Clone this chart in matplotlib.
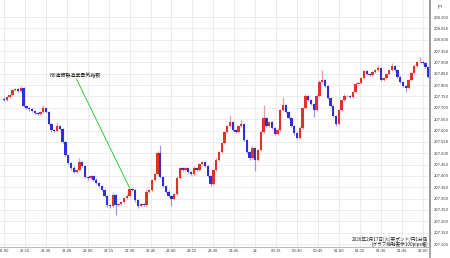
import numpy as np
import matplotlib
matplotlib.use("Agg")
import matplotlib.pyplot as plt
from matplotlib.transforms import Bbox

# ---- data (2-minute candles, minutes from 21:00) ----
closes = [
    207.734, 207.748, 207.756, 207.778, 207.783, 207.774, 207.787, 207.708, 207.699, 207.695,
    207.686, 207.677, 207.673, 207.682, 207.699, 207.682, 207.629, 207.602, 207.598, 207.620,
    207.607, 207.549, 207.492, 207.457, 207.435, 207.417, 207.426, 207.461, 207.444, 207.395,
    207.391, 207.400, 207.382, 207.369, 207.356, 207.338, 207.312, 207.272, 207.268, 207.316,
    207.272, 207.276, 207.285, 207.303, 207.312, 207.342, 207.338, 207.294, 207.268, 207.276,
    207.272, 207.329, 207.338, 207.382, 207.408, 207.500, 207.395, 207.356, 207.330, 207.312,
    207.298, 207.320, 207.391, 207.435, 207.426, 207.435, 207.417, 207.408, 207.435, 207.426,
    207.453, 207.461, 207.444, 207.400, 207.364, 207.426, 207.470, 207.505, 207.545, 207.593,
    207.620, 207.638, 207.602, 207.593, 207.620, 207.629, 207.558, 207.505, 207.479, 207.523,
    207.470, 207.514, 207.593, 207.655, 207.620, 207.638, 207.611, 207.585, 207.602, 207.690,
    207.712, 207.682, 207.655, 207.620, 207.589, 207.567, 207.611, 207.699, 207.752, 207.734,
    207.717, 207.690, 207.752, 207.814, 207.823, 207.796, 207.743, 207.708, 207.664, 207.629,
    207.690, 207.734, 207.752, 207.752, 207.748, 207.770, 207.805, 207.809, 207.831, 207.862,
    207.849, 207.845, 207.858, 207.867, 207.875, 207.823, 207.831, 207.849, 207.867, 207.884,
    207.867, 207.836, 207.814, 207.796, 207.787, 207.823, 207.853, 207.884, 207.902, 207.902,
    207.897, 207.880, 207.836,
]
first_open = 207.740
# wick lengths beyond the body, in 0.001 JPY
wick_up = [
    6, 5, 7, 4, 6, 5, 8, 4, 5, 6, 4, 5, 6, 5, 13, 4, 6, 5, 4, 18,
    5, 4, 6, 5, 4, 7, 5, 18, 4, 5, 6, 4, 5, 7, 4, 5, 6, 4, 5, 9,
    4, 6, 5, 4, 7, 5, 6, 4, 5, 6, 4, 7, 5, 6, 4, 8, 36, 5, 4, 6,
    5, 4, 7, 6, 5, 4, 6, 5, 7, 4, 6, 5, 4, 6, 5, 4, 7, 5, 6, 4,
    5, 30, 6, 4, 5, 17, 4, 6, 5, 7, 4, 6, 8, 57, 5, 6, 4, 5, 7, 6,
    36, 4, 5, 6, 4, 5, 7, 6, 8, 4, 5, 4, 7, 9, 44, 5, 4, 6, 5, 4,
    6, 5, 7, 4, 6, 5, 7, 4, 6, 5, 4, 6, 5, 4, 14, 5, 6, 4, 5, 13,
    4, 5, 6, 4, 5, 6, 5, 7, 6, 22, 5, 4, 6,
]
wick_dn = [
    5, 6, 4, 5, 6, 4, 5, 6, 4, 7, 5, 4, 6, 5, 4, 6, 5, 7, 4, 5,
    6, 4, 5, 6, 7, 4, 5, 6, 4, 5, 7, 4, 6, 5, 4, 6, 5, 8, 9, 4,
    44, 6, 5, 4, 6, 5, 4, 7, 8, 5, 6, 4, 5, 6, 4, 5, 6, 5, 7, 6,
    30, 5, 4, 6, 5, 4, 6, 5, 4, 6, 5, 4, 6, 5, 8, 4, 5, 6, 4, 5,
    6, 4, 5, 6, 4, 5, 6, 4, 7, 5, 48, 4, 5, 6, 4, 5, 6, 4, 5, 6,
    4, 5, 6, 4, 7, 6, 5, 4, 6, 5, 4, 31, 5, 4, 6, 5, 4, 6, 5, 7,
    4, 5, 6, 4, 5, 6, 4, 5, 6, 4, 5, 6, 4, 5, 6, 4, 5, 6, 4, 5,
    6, 4, 5, 6, 17, 4, 5, 6, 4, 5, 6, 5, 6,
]
candle_minutes_step = 2

tick_minutes = [0, 15, 30, 45, 60, 75, 90, 105, 120, 135, 150, 165, 180,
                195, 210, 225, 240, 255, 270, 285, 300]
tick_labels = ["21:00", "21:15", "21:30", "21:45", "22:00", "22:15", "22:30",
               "22:45", "23:00", "23:15", "23:30", "23:45", "18", "00:15",
               "00:30", "00:45", "01:00", "01:15", "01:30", "01:45", "02:00"]
y_ticks = [round(207.100 + 0.05 * k, 3) for k in range(21)]

event_label = "NY連銀製造業景気指数"
event_minute = 90
event_price = 207.347
label_minute = 51
label_price = 207.832
caption1 = "2026年2月17日(火)英ポンド/円1分足"
caption2 = "(グラフ縦軸表示100pips幅)"
currency = "JPY"

# ---- figure ----
W, H, DPI = 450, 258, 100
fig = plt.figure(figsize=(W / DPI, H / DPI), dpi=DPI)
fig.patch.set_facecolor("white")
ax = fig.add_axes([0, 1 - 247 / H, 430 / W, 247 / H])

closes_a = np.array(closes)
opens_a = np.concatenate([[first_open], closes_a[:-1]])
t = np.arange(len(closes_a)) * candle_minutes_step
hi_body = np.maximum(opens_a, closes_a)
lo_body = np.minimum(opens_a, closes_a)
highs = hi_body + np.array(wick_up) / 1000.0
lows = lo_body - np.array(wick_dn) / 1000.0
up = closes_a >= opens_a

red, blue = "#e3302b", "#2f2fd8"
red_w, blue_w = "#f09aa4", "#a394e6"

ax.vlines(t[up], lows[up], highs[up], colors=red_w, linewidth=0.9, zorder=2)
ax.vlines(t[~up], lows[~up], highs[~up], colors=blue_w, linewidth=0.9, zorder=2)
body_h = np.maximum(hi_body - lo_body, 0.002)
ax.bar(t[up], body_h[up], bottom=lo_body[up], width=1.7, color=red, linewidth=0, zorder=3)
ax.bar(t[~up], body_h[~up], bottom=lo_body[~up], width=1.7, color=blue, linewidth=0, zorder=3)

# event annotation
ax.plot([label_minute + 1, event_minute], [label_price - 0.006, event_price],
        color="#33cc33", linewidth=0.7, zorder=4)
ax.text(label_minute, label_price, event_label, fontsize=3.6, ha="center", va="bottom",
        color="#222222", family=["Noto Sans CJK JP", "DejaVu Sans"], zorder=5)

x0 = -2.9
x1 = 305.3
ax.set_xlim(x0, x1)
ax.set_ylim(207.087, 208.175)

ax.set_xticks(tick_minutes)
ax.set_xticklabels(tick_labels)
ax.set_yticks(y_ticks)
ax.set_yticklabels([f"{v:.3f}" for v in y_ticks])
ax.yaxis.tick_right()
ax.tick_params(axis="both", length=0, labelsize=2.6, labelcolor="#333333")
ax.tick_params(axis="x", pad=1.5)
ax.tick_params(axis="y", pad=2.5)
ax.grid(True, color="#e8e8ee", linewidth=0.6)
ax.set_axisbelow(True)
for s in ["top", "left"]:
    ax.spines[s].set_visible(False)
ax.spines["right"].set_color("#999999")
ax.spines["right"].set_linewidth(1.2)
ax.spines["bottom"].set_color("#bbbbbb")
ax.spines["bottom"].set_linewidth(0.8)

clip = Bbox.from_extents(0, 0, 428, H)
for lbl in ax.get_xticklabels():
    lbl.set_clip_on(True)
    lbl.set_clip_box(clip)

fig.text(440 / W, 1 - 7 / H, currency, fontsize=2.6, ha="center", va="center", color="#333333")

ax.text(0.995, 0.033, caption1, transform=ax.transAxes, fontsize=3.3, ha="right", va="center",
        color="#222222", family=["Noto Sans CJK JP", "DejaVu Sans"])
ax.text(0.995, 0.013, caption2, transform=ax.transAxes, fontsize=3.3, ha="right", va="center",
        color="#222222", family=["Noto Sans CJK JP", "DejaVu Sans"])

# right axis line spans full height
fig.add_artist(plt.Line2D([430 / W, 430 / W], [0, 1], color="#999999", linewidth=1.2))

fig.savefig("out.png", dpi=DPI, facecolor="white")
